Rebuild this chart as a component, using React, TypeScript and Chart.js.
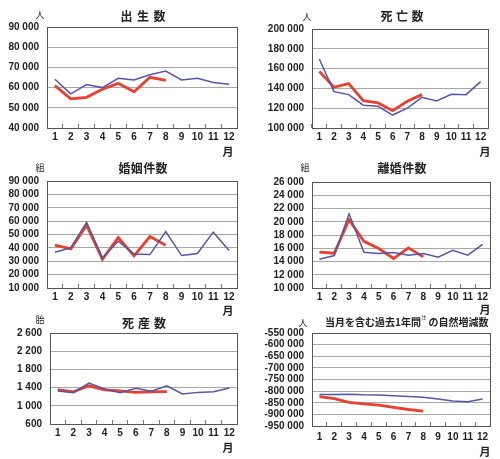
import { useEffect, useRef } from 'react'
import { Chart, registerables } from 'chart.js'

Chart.register(...registerables)

const months = ['1', '2', '3', '4', '5', '6', '7', '8', '9', '10', '11', '12']

// previous year (blue) and current year (red)
const birthsPrev = [64100, 56900, 61500, 60000, 64600, 63800, 66400, 68200, 63800, 64600, 62500, 61600]
const birthsCur = [61000, 54400, 55200, 59200, 62100, 57900, 65100, 63600]
const deathsPrev = [169700, 136700, 133700, 123000, 121900, 113100, 120000, 131000, 127300, 134000, 133700, 146800]
const deathsCur = [157200, 141100, 144800, 127600, 125300, 117500, 127000, 133700]
const marriagesPrev = [36750, 40000, 59000, 32500, 45000, 35500, 35000, 52250, 34250, 35750, 51750, 38000]
const marriagesCur = [42000, 39250, 57000, 31500, 47750, 34000, 48500, 42000]
const divorcesPrev = [14350, 14900, 21200, 15400, 15200, 15350, 14950, 15200, 14650, 15700, 14950, 16600]
const divorcesCur = [15400, 15250, 20300, 17050, 15950, 14450, 16050, 14700]
const stillbirthsPrev = [1325, 1290, 1500, 1370, 1285, 1385, 1320, 1440, 1260, 1295, 1310, 1390]
const stillbirthsCur = [1355, 1305, 1440, 1350, 1330, 1295, 1305, 1310]
const naturalPrev = [-814300, -814000, -813000, -816000, -817000, -820000, -823000, -826000, -834000, -842000, -846000, -834000]
const naturalCur = [-824000, -832000, -848000, -855000, -860000, -870000, -879000, -886000]

const BLUE = '#5656a8'
const RED = '#e8402c'
const NUM_FONT = "'Liberation Sans', Arial, sans-serif"
const JP_FONT = "'Noto Sans CJK JP', sans-serif"

const fmt = (v: number) => {
  const s = Math.abs(v).toString().replace(/\B(?=(\d{3})+(?!\d))/g, ' ')
  return (v < 0 ? '-' : '') + s
}

type PanelT = {
  x: number
  y: number
  w: number
  h: number
  plot: [number, number, number, number]
  min: number
  max: number
  step: number
  prev: number[]
  cur: number[]
  title: string
  titleStep: number
  titleX: number
  titleY: number
  unit: string
  unitX: number
  unitY: number
  monthX: number
  monthY: number
  xPad: number
}

const panels: PanelT[] = [
  {
    x: 0, y: 0, w: 250, h: 160, plot: [47, 27, 237, 128],
    min: 40000, max: 90000, step: 10000, prev: birthsPrev, cur: birthsCur,
    title: '出生数', titleStep: 16.5, titleX: 143, titleY: 16,
    unit: '人', unitX: 40, unitY: 15, monthX: 228, monthY: 152, xPad: 7,
  },
  {
    x: 250, y: 0, w: 250, h: 160, plot: [312, 29, 488, 128],
    min: 100000, max: 200000, step: 20000, prev: deathsPrev, cur: deathsCur,
    title: '死亡数', titleStep: 15.5, titleX: 402, titleY: 16,
    unit: '人', unitX: 307, unitY: 17, monthX: 485, monthY: 152, xPad: 7,
  },
  {
    x: 0, y: 155, w: 250, h: 163, plot: [47, 181, 237, 288],
    min: 10000, max: 90000, step: 10000, prev: marriagesPrev, cur: marriagesCur,
    title: '婚姻件数', titleStep: 12.3, titleX: 143, titleY: 168,
    unit: '組', unitX: 40, unitY: 168, monthX: 228, monthY: 311, xPad: 7,
  },
  {
    x: 250, y: 155, w: 250, h: 163, plot: [312, 182, 490, 288],
    min: 10000, max: 26000, step: 2000, prev: divorcesPrev, cur: divorcesCur,
    title: '離婚件数', titleStep: 12.3, titleX: 402, titleY: 168,
    unit: '組', unitX: 305, unitY: 168, monthX: 485, monthY: 310, xPad: 7,
  },
  {
    x: 0, y: 312, w: 250, h: 147, plot: [50, 333, 237, 424],
    min: 600, max: 2600, step: 400, prev: stillbirthsPrev, cur: stillbirthsCur,
    title: '死産数', titleStep: 16, titleX: 144, titleY: 323,
    unit: '胎', unitX: 40, unitY: 320, monthX: 228, monthY: 448, xPad: 7,
  },
  {
    x: 250, y: 312, w: 250, h: 147, plot: [312, 333, 490, 426],
    min: -950000, max: -550000, step: 50000, prev: naturalPrev, cur: naturalCur,
    title: '', titleStep: 0, titleX: 325, titleY: 322,
    unit: '人', unitX: 303, unitY: 323, monthX: 485, monthY: 452, xPad: 9,
  },
]

const Panel = ({ p }: { p: PanelT }) => {
  const canvasRef = useRef<HTMLCanvasElement>(null)

  useEffect(() => {
    const [l, t, r, b] = p.plot
    const ox = p.x
    const oy = p.y

    const panelText = {
      id: 'panelText',
      beforeDatasetsDraw(chart: Chart) {
        const { ctx, chartArea } = chart
        ctx.save()
        ctx.strokeStyle = '#555'
        ctx.lineWidth = 1
        ctx.strokeRect(
          Math.round(chartArea.left) + 0.5,
          Math.round(chartArea.top) + 0.5,
          Math.round(chartArea.right - chartArea.left),
          Math.round(chartArea.bottom - chartArea.top)
        )
        ctx.restore()
      },
      afterDraw(chart: Chart) {
        const ctx = chart.ctx
        ctx.save()
        ctx.fillStyle = '#222'
        ctx.textBaseline = 'middle'
        ctx.textAlign = 'center'
        // title
        if (p.title) {
          ctx.font = `bold 12px ${JP_FONT}`
          const chars = Array.from(p.title)
          const start = p.titleX - ((chars.length - 1) * p.titleStep) / 2
          chars.forEach((c, i) => ctx.fillText(c, start - ox + i * p.titleStep, p.titleY - oy))
        } else {
          ctx.textAlign = 'left'
          ctx.font = `bold 10px ${JP_FONT}`
          let cx = p.titleX - ox
          const cy = p.titleY - oy
          const a = '当月を含む過去1年間'
          ctx.fillText(a, cx, cy)
          cx += ctx.measureText(a).width + 0.5
          ctx.font = `5px ${JP_FONT}`
          ctx.fillText('注', cx, cy - 5)
          cx += ctx.measureText('注').width + 2
          ctx.font = `bold 10px ${JP_FONT}`
          ctx.fillText('の自然増減数', cx, cy)
          ctx.textAlign = 'center'
        }
        // unit
        ctx.font = `9px ${JP_FONT}`
        ctx.fillText(p.unit, p.unitX - ox, p.unitY - oy)
        // month
        ctx.font = `bold 11px ${JP_FONT}`
        ctx.fillText('月', p.monthX - ox, p.monthY - oy)
        ctx.restore()
      },
    }

    const chart = new Chart(canvasRef.current!, {
      type: 'line',
      data: {
        labels: months,
        datasets: [
          {
            label: '前年',
            data: p.prev,
            borderColor: BLUE,
            borderWidth: 1.5,
            pointRadius: 0,
            tension: 0,
          },
          {
            label: '本年',
            data: p.cur,
            borderColor: RED,
            borderWidth: 2.8,
            pointRadius: 0,
            tension: 0,
          },
        ],
      },
      options: {
        animation: false,
        responsive: false,
        maintainAspectRatio: false,
        layout: {
          padding: { left: 0, top: t - oy, right: ox + p.w - r, bottom: 0 },
        },
        plugins: {
          legend: { display: false },
          tooltip: { enabled: false },
        },
        scales: {
          x: {
            offset: true,
            grid: {
              offset: true,
              drawOnChartArea: false,
              drawTicks: true,
              tickLength: -4,
              color: '#777',
            },
            border: { display: false },
            ticks: {
              padding: p.xPad,
              maxRotation: 0,
              autoSkip: false,
              color: '#222',
              font: { family: NUM_FONT, size: 10, weight: 'bold' },
            },
            afterFit: (s: any) => {
              s.height = oy + p.h - b
            },
          },
          y: {
            min: p.min,
            max: p.max,
            grid: { color: '#a8a8a8', drawTicks: false },
            border: { display: false },
            ticks: {
              stepSize: p.step,
              autoSkip: false,
              padding: 8,
              color: '#222',
              font: { family: NUM_FONT, size: 10, weight: 'bold' },
              callback: (v: any) => fmt(Number(v)),
            },
            afterFit: (s: any) => {
              s.width = l - ox
            },
          },
        },
      },
      plugins: [panelText],
    })

    return () => chart.destroy()
  }, [p])

  return (
    <canvas
      ref={canvasRef}
      width={p.w}
      height={p.h}
      style={{ position: 'absolute', left: p.x, top: p.y, width: p.w, height: p.h }}
    />
  )
}

const App = () => {
  return (
    <div style={{ position: 'absolute', left: 0, top: 0, width: 500, height: 459, background: '#fff' }}>
      {panels.map((p, i) => (
        <Panel key={i} p={p} />
      ))}
    </div>
  )
}

export default App
